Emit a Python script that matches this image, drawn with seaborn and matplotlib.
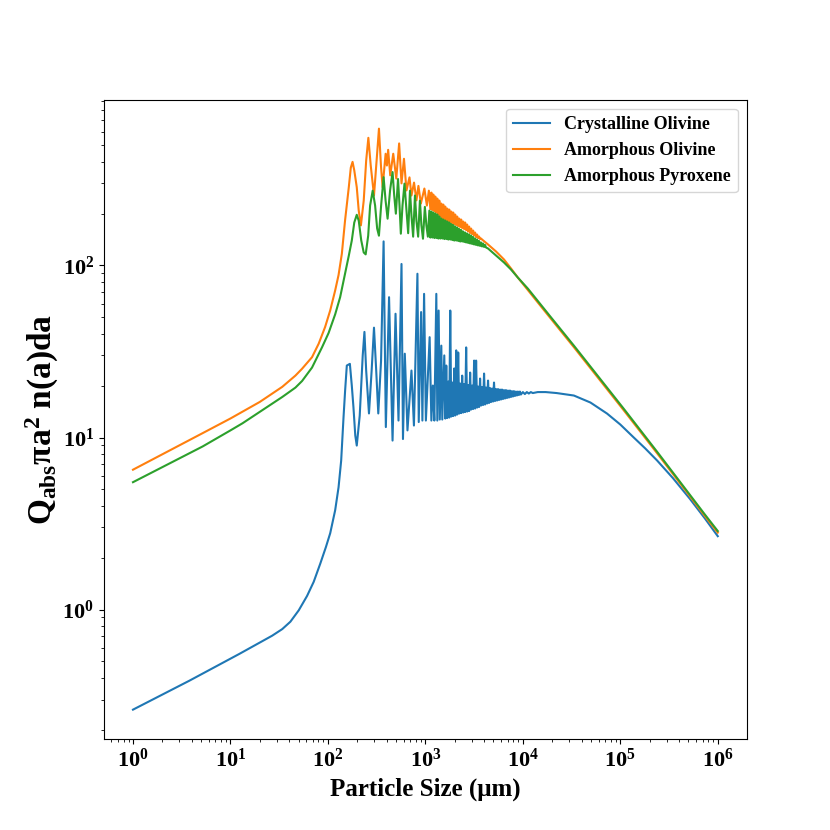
import matplotlib
matplotlib.use('Agg')
import matplotlib.pyplot as plt
import seaborn as sns

# (particle size in um, Q_abs*pi*a^2*n(a)da)
crystalline_olivine = [
    (1, 0.262), (3.79, 0.386), (12.3, 0.552), (21.2, 0.655), (26.8, 0.705),
    (34.0, 0.77), (41.2, 0.85), (50.2, 0.99), (61.1, 1.2), (71.5, 1.45),
    (83.5, 1.85), (95.4, 2.31), (105.6, 2.78), (118.7, 3.78), (128.6, 5.14),
    (136.8, 7.35), (144.6, 13.1), (150.2, 18.8), (156.3, 26.2), (168, 26.8),
    (175.8, 20.05), (182.8, 15.0), (190.9, 10.27), (197.7, 8.98), (212, 13.4),
    (227.6, 30.0), (237, 41.1), (246.9, 24.5), (263.8, 13.8), (281, 24.5),
    (297, 43.5), (313, 24.5), (328.7, 13.8), (351, 28.0), (372.7, 138),
    (393, 11.5), (424, 65.4), (460.5, 9.6), (494, 52.4), (530, 12.55),
    (569, 102), (589, 9.8), (615, 30.7), (655, 11.0), (720, 24.5),
    (763, 11.74), (828.8, 89.5), (855, 12.3), (904, 53.6), (932, 12.55),
    (970, 68.4), (1012, 12.55), (1106, 38.3), (1152, 12.55), (1193, 20.05),
    (1236, 12.55), (1295, 68.4), (1326, 12.55), (1368, 54.7), (1406, 12.72),
    (1457, 34.2), (1491, 12.72), (1563, 30.0), (1600, 12.89), (1638, 26.2),
    (1677, 12.98), (1717, 21.15), (1758, 13.06), (1800, 54.7), (1843, 13.24),
    (1886, 20.87), (1931, 13.33), (1977, 25.2), (2024, 13.42), (2072, 32.1),
    (2122, 13.60), (2172, 31.2), (2224, 13.78), (2277, 20.59), (2331, 13.87),
    (2386, 22.9), (2443, 13.97), (2501, 20.46), (2560, 14.06), (2621, 33.4),
    (2683, 14.15), (2747, 20.19), (2812, 14.25), (2879, 23.85), (2948, 14.54),
    (3018, 20.05), (3090, 14.64), (3163, 28.0), (3238, 14.74), (3315, 28.0),
    (3394, 14.93), (3475, 19.78), (3557, 15.04), (3642, 22.02), (3728, 15.34),
    (3817, 19.65), (3908, 15.45), (4001, 23.54), (4096, 15.55), (4193, 19.52),
    (4293, 15.76), (4395, 21.43), (4500, 15.87), (4607, 19.39), (4716, 16.07),
    (4828, 19.26), (4943, 16.18), (5061, 20.87), (5181, 16.29), (5305, 19.13),
    (5431, 16.40), (5560, 19.13), (5692, 16.51), (5828, 19.00), (5966, 16.62),
    (6108, 19.00), (6253, 16.73), (6402, 18.87), (6554, 16.85), (6710, 18.87),
    (6870, 16.96), (7033, 18.75), (7200, 17.07), (7372, 18.75), (7547, 17.19),
    (7726, 18.62), (7910, 17.30), (8098, 18.62), (8291, 17.42), (8488, 18.50),
    (8690, 17.54), (8896, 18.50), (9108, 17.65), (9325, 18.50), (9546, 17.77),
    (10006, 18.37), (10487, 17.89), (10992, 18.37), (11521, 18.01), (12076, 18.37),
    (12657, 18.13), (14224, 18.37), (17170, 18.37), (22230, 18.13), (33400, 17.54),
    (49400, 15.97), (73100, 13.78), (100000, 11.9), (135700, 10.07), (179900, 8.65),
    (238700, 7.35), (347500, 5.80), (518000, 4.40), (737000, 3.39), (1000000, 2.67),
]

amorphous_olivine = [
    (1, 6.5), (3.79, 9.66), (5.18, 10.6), (10, 12.9), (20, 16.1),
    (34.0, 19.7), (46.4, 22.9), (54.3, 25.1), (68.7, 29.3), (80.4, 35.1),
    (93.6, 43.9), (105.6, 54.8), (118.7, 71.6), (128.6, 88), (139, 117),
    (150, 183), (163.8, 285), (171.7, 370), (179, 400), (186.4, 357),
    (197.7, 285), (207, 209), (218, 171), (233, 238), (247, 408),
    (260, 552), (275, 381), (297, 255), (316, 408), (334, 624),
    (350, 381), (364, 285), (391, 446), (403, 381), (415, 470),
    (436, 334), (468, 446), (503, 320), (538, 512), (569, 300),
    (603, 417), (640, 273), (687, 325), (720, 255), (765, 303),
    (809.5, 239), (848.5, 290), (899, 229), (977, 280), (1036, 223),
    (1086, 272), (1125, 212.7), (1152, 265.2), (1179, 210), (1207, 258.2),
    (1236, 207), (1265, 251.4), (1295, 203.0), (1326, 244.7), (1358, 197.6),
    (1390, 238.3), (1423, 192.4), (1457, 228.9), (1491, 188.5), (1527, 225.9),
    (1563, 186.1), (1600, 219.9), (1638, 183.6), (1677, 214.1), (1717, 181.2),
    (1758, 211.3), (1800, 178.8), (1843, 205.7), (1886, 176.4), (1931, 203.0),
    (1977, 174.0), (2024, 197.6), (2072, 171.7), (2122, 192.4), (2172, 169.4),
    (2224, 187.3), (2277, 167.2), (2331, 184.8), (2386, 165.0), (2443, 180.0),
    (2501, 162.8), (2560, 177.6), (2621, 160.6), (2683, 172.9), (2747, 157.5),
    (2812, 168.3), (2879, 154.3), (2948, 163.9), (3018, 152.3), (3090, 159.6),
    (3163, 149.3), (3238, 155.4), (3315, 146.3), (3394, 151.3), (3475, 144.4),
    (3557, 147.3), (3642, 142.4), (3728, 143.4), (3817, 141.5), (4395, 132.4),
    (5305, 120.6), (6402, 108.4), (7547, 96.2), (8896, 85.0), (11254, 72.0),
    (14224, 61.0), (18870, 50.0), (23780, 42.5), (33400, 33.5), (49400, 25.3),
    (73100, 19.1), (107400, 14.5), (160000, 10.85), (238700, 8.1), (347500, 6.13),
    (518000, 4.56), (737000, 3.50), (1000000, 2.80),
]

amorphous_pyroxene = [
    (1, 5.5), (3.79, 8.1), (5.18, 8.87), (10, 11.0), (13.3, 12.1),
    (34.0, 17.2), (46.4, 19.5), (54.3, 21.3), (68.7, 25.5), (86.9, 33.4),
    (101.6, 40.5), (118.7, 52), (133.5, 65.4), (150.2, 90), (163.8, 114),
    (175.8, 139.6), (186.4, 177.6), (197.7, 197), (207.2, 182), (219.7, 140),
    (233, 119), (244, 116), (259, 149), (271, 223), (288, 272),
    (305, 223), (320, 164), (333.8, 149), (351.5, 223), (372.7, 326),
    (390.7, 238), (409.5, 187), (434, 272), (460.5, 349), (479, 255),
    (498, 200), (512, 255), (524, 318), (543, 223), (560, 153),
    (582.5, 223), (610.6, 299), (640, 209), (666, 154), (695, 272),
    (720, 195), (749, 147), (782, 255), (809.5, 182), (843, 147),
    (879, 238), (910.5, 171), (945, 143), (988, 219), (1024, 171),
    (1061, 147), (1099, 208.5), (1125, 145.3), (1152, 205.7), (1179, 145.3),
    (1207, 203.0), (1236, 144.4), (1265, 200.3), (1295, 144.4), (1326, 197.6),
    (1358, 143.4), (1390, 192.4), (1423, 143.4), (1457, 187.3), (1491, 143.4),
    (1527, 184.8), (1563, 142.4), (1600, 182.4), (1638, 142.4), (1677, 180.0),
    (1717, 141.5), (1758, 177.6), (1800, 141.5), (1843, 174.0), (1886, 140.5),
    (1931, 171.7), (1977, 139.6), (2024, 168.3), (2072, 139.6), (2122, 166.1),
    (2172, 138.7), (2224, 162.8), (2277, 137.8), (2331, 160.6), (2386, 137.8),
    (2443, 157.5), (2501, 136.9), (2560, 155.4), (2621, 136.0), (2683, 153.3),
    (2747, 135.1), (2812, 151.3), (2879, 134.2), (2948, 149.3), (3018, 133.3),
    (3090, 146.3), (3163, 132.4), (3238, 143.4), (3315, 131.5), (3394, 141.5),
    (3475, 130.6), (3557, 138.7), (3642, 129.8), (3728, 136.0), (3817, 128.9),
    (3908, 134.2), (4001, 128.1), (4096, 131.5), (4193, 127.2), (4395, 125.5),
    (5305, 114.3), (6402, 104.1), (7547, 94.8), (8896, 85.0), (11254, 73.4),
    (14224, 62.2), (18870, 51.0), (23780, 43.4), (33400, 34.2), (49400, 25.8),
    (73100, 19.5), (107400, 14.8), (160000, 11.07), (238700, 8.26), (347500, 6.25),
    (518000, 4.65), (737000, 3.57), (1000000, 2.86),
]

labels = ['Crystalline Olivine', 'Amorphous Olivine', 'Amorphous Pyroxene']
series = [crystalline_olivine, amorphous_olivine, amorphous_pyroxene]

plt.rcParams.update({
    'font.family': ['Liberation Serif', 'DejaVu Serif'],
    'font.weight': 'bold',
    'mathtext.fontset': 'custom',
    'mathtext.rm': 'Liberation Serif:bold',
    'mathtext.it': 'Liberation Serif:bold',
    'mathtext.bf': 'Liberation Serif:bold',
    'mathtext.default': 'bf',
})

fig, ax = plt.subplots(figsize=(8.3, 8.3), dpi=100)

for i, pts in enumerate(series):
    xs = [p[0] for p in pts]
    ys = [p[1] for p in pts]
    sns.lineplot(x=xs, y=ys, ax=ax, color=f'C{i}', label=labels[i],
                 estimator=None, sort=False, linewidth=1.5)

ax.set_xscale('log')
ax.set_yscale('log')
ax.set_xlabel('Particle Size (μm)', fontsize=18, fontweight='bold')
ax.set_ylabel('Q$_{abs}$πa$^{2}$ n(a)da', fontsize=24, fontweight='bold',
              labelpad=1)
ax.tick_params(axis='both', which='major', labelsize=16)
ax.legend(loc='upper right', prop={'weight': 'bold', 'size': 13})

fig.savefig('out.png', dpi=100)
